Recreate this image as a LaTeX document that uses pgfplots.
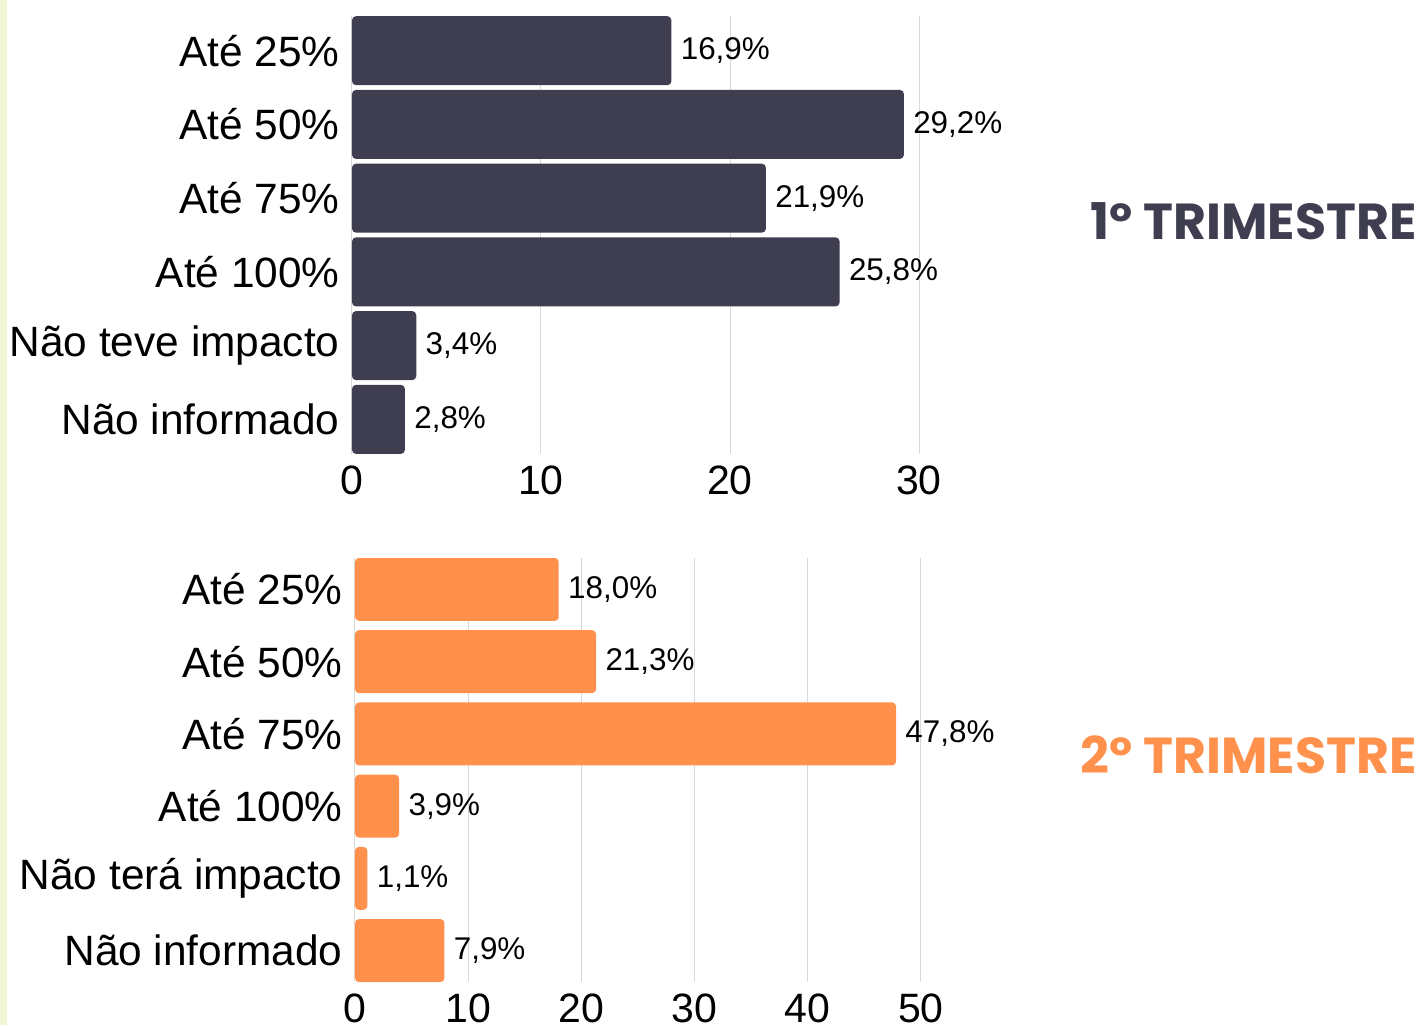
\documentclass[border=0pt]{standalone}
\usepackage{pgfplots}
\pgfplotsset{compat=1.18}
\usepackage{fontspec}
\setmainfont{Liberation Sans}
\newfontfamily\pop{Poppins}
\definecolor{dark}{HTML}{3E3E50}
\definecolor{orng}{HTML}{FF914D}
\definecolor{strip}{HTML}{F0F5D6}
\pgfplotsset{
  mybar/.style={
    xbar, scale only axis, ytick=data, y dir=reverse,
    xmin=0, axis line style={draw=none}, major tick length=0pt,
    xmajorgrids, grid style={draw=black!15, line width=0.5pt},
    /pgf/number format/assume math mode=true,
    tick label style={font=\fontsize{20.5}{24}\selectfont},
    yticklabel style={anchor=east, inner ysep=0pt, inner xsep=0pt, xshift=-6pt, font=\fontsize{21.2}{25}\selectfont},
    xticklabel style={anchor=north, inner sep=0pt, yshift=-5.5pt},
    point meta=x,
    nodes near coords={\pgfmathprintnumber[fixed,fixed zerofill,precision=1,use comma,assume math mode=true]{\pgfplotspointmeta}\%},
    every node near coord/.append style={anchor=west, inner xsep=0pt, xshift=4.5pt, font=\fontsize{15.7}{18}\selectfont, text=black},
  }
}
\begin{document}
\begin{tikzpicture}[x=0.5pt,y=0.5pt]
\path[use as bounding box] (0,0) rectangle (1419,-1025);
\fill[strip] (0,0) rectangle (7,-1025);
\begin{axis}[mybar,
  at={(176pt,-227pt)}, anchor=south west,
  width=330.75pt, height=219pt,
  xmax=35, ymin=-0.47, ymax=5.47,
  bar width=34.5pt,
  xtick={0,10,20,30},
  yticklabels={Até 25\%, Até 50\%, Até 75\%, Até 100\%, Não teve impacto, Não informado},
]
\addplot[fill=dark, draw=none, rounded corners=2pt] coordinates {(16.9,0) (29.2,1) (21.9,2) (25.8,3) (3.4,4) (2.8,5)};
\end{axis}
\begin{axis}[mybar,
  at={(177.5pt,-491pt)}, anchor=south west,
  width=322.6pt, height=212pt,
  xmax=57, ymin=-0.435, ymax=5.435,
  bar width=31.5pt,
  xtick={0,10,20,30,40,50},
  yticklabels={Até 25\%, Até 50\%, Até 75\%, Até 100\%, Não terá impacto, Não informado},
]
\addplot[fill=orng, draw=none, rounded corners=2pt] coordinates {(18.0,0) (21.3,1) (47.8,2) (3.9,3) (1.1,4) (7.9,5)};
\end{axis}
\node[anchor=east, inner sep=0pt, text=dark, font=\pop\bfseries\fontsize{25.3}{30}\selectfont] at (1417,-221) {1º TRIMESTRE};
\node[anchor=east, inner sep=0pt, text=orng, font=\pop\bfseries\fontsize{25.3}{30}\selectfont] at (1417,-755) {2º TRIMESTRE};
\end{tikzpicture}
\end{document}
